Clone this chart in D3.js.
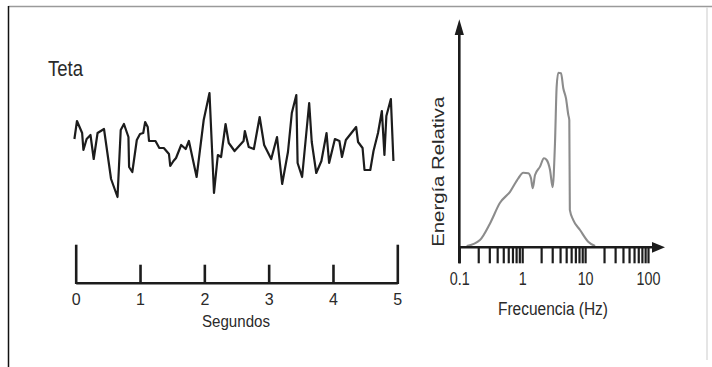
<!DOCTYPE html>
<html>
<head>
<meta charset="utf-8">
<script src="https://cdn.jsdelivr.net/npm/d3@7/dist/d3.min.js"></script>
<style>
  html, body { margin: 0; padding: 0; background: #fff; }
  svg { display: block; }
  text { font-family: "Liberation Sans", Arial, Helvetica, sans-serif; fill: #2a2a2a; }
</style>
</head>
<body>
<svg id="chart" width="712" height="367"></svg>
<script>
// ---- Data: theta EEG trace (seconds, relative amplitude) ----
const timeSec = [-0.02,0.02,0.10,0.12,0.17,0.23,0.28,0.34,0.44,0.55,0.65,0.70,0.75,0.82,0.83,0.88,0.95,1.00,1.05,1.08,
  1.12,1.14,1.24,1.30,1.37,1.45,1.47,1.52,1.56,1.64,1.71,1.76,1.88,1.99,2.08,2.15,2.21,2.26,2.33,2.38,
  2.47,2.61,2.63,2.69,2.77,2.86,2.93,3.04,3.13,3.21,3.30,3.36,3.43,3.45,3.52,3.63,3.67,3.74,3.82,3.90,
  3.94,4.03,4.10,4.14,4.20,4.36,4.39,4.46,4.49,4.58,4.63,4.70,4.76,4.80,4.83,4.90,4.94];
const amplitude = [6,24,12,-5,6,10,-14,12,16,-34,-52,15,21,8,-22,-27,5,11,12,23,
  18,4,4,-3,-3,-9,-21,-16,-13,0,-4,4,-32,25,52,-48,-10,-12,21,2,
  -6,4,14,-2,-4,28,0,-14,8,-39,-7,32,50,-18,-32,42,3,-28,-16,12,
  -18,6,4,-12,5,18,3,-3,-25,-25,-6,12,34,-10,29,46,-16];
const timeTicks = [0, 1, 2, 3, 4, 5];

// ---- Data: power spectrum (Hz, relative energy) ----
const freqHz = [0.131,0.213,0.308,0.444,0.640,0.867,1.04,1.25,1.38,1.47,1.60,1.92,2.22,2.45,2.77,3.05,3.32,3.53,3.75,4.14,
  4.50,4.97,5.41,5.61,5.72,6.49,8.30,11.2,14.4];
const energy = [0.007,0.042,0.137,0.255,0.318,0.395,0.427,0.424,0.395,0.338,0.414,0.462,0.510,0.500,0.443,0.344,0.596,0.920,1.0,0.997,
  0.911,0.853,0.758,0.729,0.214,0.156,0.099,0.032,0.007];
const freqLabels = [0.1, 1, 10, 100];

const svg = d3.select("#chart");

// helper: compress text horizontally to a target width
function fitWidth(sel, w) {
  sel.attr("textLength", w).attr("lengthAdjust", "spacingAndGlyphs");
}
function squeeze(sel, f) {
  sel.each(function () {
    const L = this.getComputedTextLength();
    if (L > 0) d3.select(this).attr("textLength", L * f).attr("lengthAdjust", "spacingAndGlyphs");
  });
}

// ---- frame ----
svg.append("line").attr("x1", 8.5).attr("x2", 712).attr("y1", 6.5).attr("y2", 6.5)
  .attr("stroke", "#9a9a9a").attr("stroke-width", 1.5);
svg.append("line").attr("x1", 8.5).attr("x2", 8.5).attr("y1", 6).attr("y2", 367)
  .attr("stroke", "#111").attr("stroke-width", 1.5);
svg.append("line").attr("x1", 707).attr("x2", 707).attr("y1", 7).attr("y2", 360)
  .attr("stroke", "#dcdcdc").attr("stroke-width", 1.5);

// ---- Left panel: Teta trace ----
const xT = d3.scaleLinear().domain([0, 5]).range([75.7, 397.3]);
const yA = d3.scaleLinear().domain([-55, 55]).range([200, 90]);

const tTitle = svg.append("text").attr("x", 48).attr("y", 75.5)
  .attr("font-size", 21.5).text("Teta");
fitWidth(tTitle, 35);

svg.append("path")
  .datum(timeSec.map((t, i) => [t, amplitude[i]]))
  .attr("fill", "none").attr("stroke", "#1c1c1c").attr("stroke-width", 2.2)
  .attr("stroke-linejoin", "round")
  .attr("d", d3.line().x(d => xT(d[0])).y(d => yA(d[1])));

const axT = svg.append("g").attr("transform", "translate(0,282.7)")
  .call(d3.axisBottom(xT).tickValues(timeTicks).tickSizeInner(-18).tickSizeOuter(0).tickPadding(11)
    .tickFormat(d3.format("d")));
axT.select(".domain").attr("stroke", "#1c1c1c").attr("stroke-width", 2.6);
axT.selectAll(".tick line").attr("stroke", "#1c1c1c").attr("stroke-width", 2.6)
  .attr("y2", d => (d === 0 || d === 5) ? -38 : -18).attr("y1", 1.3);
axT.selectAll(".tick text").attr("font-size", 16).attr("fill", "#2a2a2a")
  .attr("font-family", "\"Liberation Sans\", Arial, sans-serif");

const seg = svg.append("text").attr("x", xT(2.5) - 0.5).attr("y", 326.5)
  .attr("text-anchor", "middle").attr("font-size", 16).text("Segundos");
fitWidth(seg, 68);

// ---- Right panel: spectrum ----
const xF = d3.scaleLog().domain([0.1, 100]).range([459.3, 648]);
const yE = d3.scaleLinear().domain([0, 1.3]).range([247.3, 20.3]);
const x0 = xF.range()[0], yBase = yE(0);

// curve
svg.append("path")
  .datum(freqHz.map((f, i) => [f, energy[i]]))
  .attr("fill", "none").attr("stroke", "#8c8c8c").attr("stroke-width", 2.1)
  .attr("stroke-linejoin", "round")
  .attr("d", d3.line().x(d => xF(d[0])).y(d => yE(d[1])).curve(d3.curveMonotoneX));

// y axis with arrow
svg.append("line").attr("x1", x0).attr("x2", x0).attr("y1", 30).attr("y2", yBase + 16)
  .attr("stroke", "#1c1c1c").attr("stroke-width", 2.6);
svg.append("path")
  .attr("d", `M${x0},${yE(1.3) - 1}L${x0 - 4.6},${yE(1.3) + 14.7}L${x0 + 4.6},${yE(1.3) + 14.7}Z`)
  .attr("fill", "#1c1c1c");

// x axis with arrow
const xEnd = xF.range()[1];
svg.append("line").attr("x1", x0).attr("x2", xEnd + 8).attr("y1", yBase).attr("y2", yBase)
  .attr("stroke", "#1c1c1c").attr("stroke-width", 2.6);
svg.append("path")
  .attr("d", `M${xEnd + 17},${yBase}L${xEnd + 4},${yBase - 5.4}L${xEnd + 4},${yBase + 5.4}Z`)
  .attr("fill", "#1c1c1c");

const isDecade = d => Math.abs(Math.log10(d) - Math.round(Math.log10(d))) < 1e-6;
const axF = svg.append("g").attr("transform", `translate(0,${yBase})`)
  .call(d3.axisBottom(xF).tickValues(xF.ticks()).tickSize(16).tickPadding(9.3)
    .tickFormat(d => {
      const hit = freqLabels.find(v => Math.abs(v - d) / v < 1e-6);
      return hit !== undefined ? String(hit) : "";
    }));
axF.select(".domain").remove();
axF.selectAll(".tick line").attr("stroke", "#1c1c1c").attr("stroke-width", 2.2);
axF.selectAll(".tick text").attr("font-size", 17.5).attr("fill", "#2a2a2a")
  .attr("font-family", "\"Liberation Sans\", Arial, sans-serif")
  .call(squeeze, 0.82);

const fl = svg.append("text").attr("x", 553).attr("y", 315)
  .attr("text-anchor", "middle").attr("font-size", 18).text("Frecuencia (Hz)");
fitWidth(fl, 110);

const el = svg.append("text").attr("transform", "translate(444.3,171.7) rotate(-90)")
  .attr("text-anchor", "middle").attr("font-size", 17).text("Energía Relativa");
fitWidth(el, 150);
</script>
</body>
</html>
